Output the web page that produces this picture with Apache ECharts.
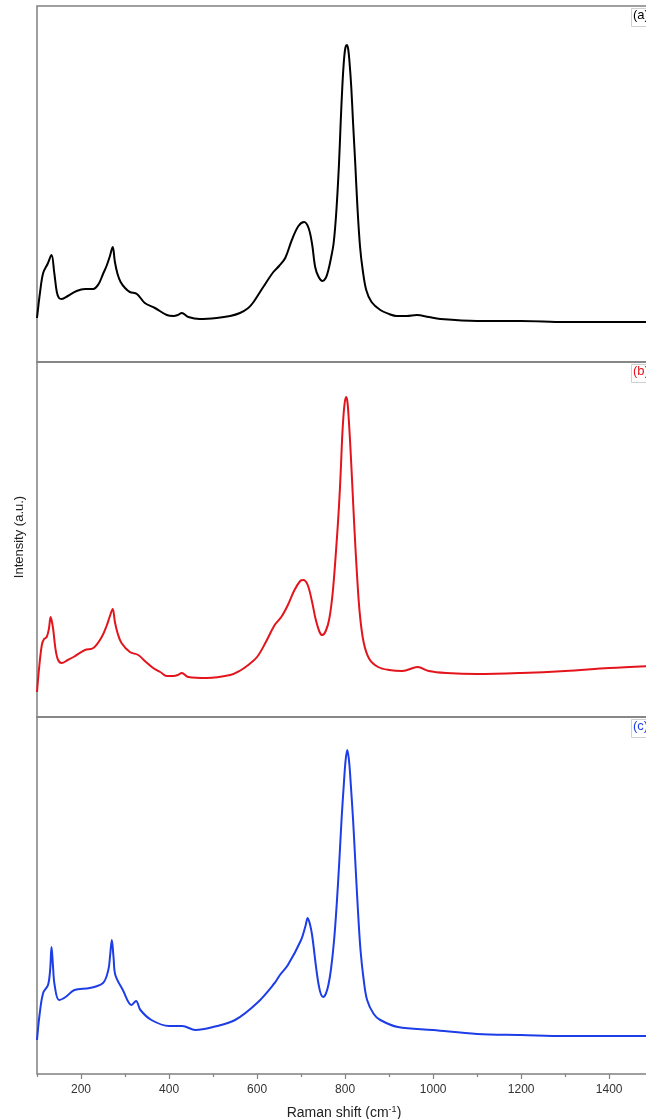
<!DOCTYPE html>
<html>
<head>
<meta charset="utf-8">
<script src="https://cdn.jsdelivr.net/npm/echarts@6/dist/echarts.min.js"></script>
<style>html,body{margin:0;padding:0;background:#fff}#c{width:646px;height:1119px}</style>
</head>
<body>
<div id="c"></div>
<script>
// Raman shift (cm-1) and intensity (a.u.) for each spectrum
const shiftA = [100,107,114,124,133,139,145,150,156,170,190,209,228,240,250,258,265,272,277,283,290,300,311,327,345,368,395,410,420,429,444,470,508,539,561,580,592,614,637,650,664,679,694,707,717,725,732,740,749,756,762,768,774,780,786,790,794,798,801,804,807,810,814,818,823,828,834,840,848,860,880,900,917,940,963,990,1016,1100,1200,1300,1400,1495];
const intensityA = [44,70,89,98,107,90,70,64,63,66,71,73,73,78,88,96,105,115,100,88,80,74,70,68,59,54,47,46,47,49,45,43,44,46,49,54,60,75,90,96,104,122,136,140,134,118,95,85,81,84,92,104,119,150,197,240,278,305,315,317,313,300,275,240,199,155,115,92,72,60,52,48,46,46,47,45,43,41,41,40,40,40];

const shiftB = [100,105,111,116,122,127,131,134,137,142,148,156,170,183,209,228,247,258,265,272,277,283,292,311,330,345,364,380,395,410,420,429,444,486,539,560,580,600,620,640,655,670,685,698,705,715,725,733,742,748,756,764,772,780,786,790,794,798,802,805,808,812,816,821,826,833,842,855,875,900,930,965,990,1030,1100,1200,1300,1400,1495];
const intensityB = [25,50,72,78,80,88,100,95,87,68,57,54,57,60,67,69,80,91,100,108,95,84,74,65,62,56,49,45,41,41,42,44,40,39,42,46,52,60,75,92,100,112,127,136,137,132,115,98,85,82,86,98,125,170,210,245,285,310,320,316,300,270,235,190,150,105,75,58,50,47,46,50,46,44,43,44,46,49,51];

const shiftC = [100,106,114,125,130,133,136,140,150,165,185,220,250,262,266,270,274,278,295,315,325,335,360,400,430,460,500,550,600,640,652,670,700,710,715,720,725,740,750,756,762,768,775,781,787,792,797,801,805,809,813,818,823,829,835,842,850,865,880,920,1000,1100,1200,1300,1400,1495];
const intensityC = [34,60,81,89,105,127,110,89,74,77,84,86,91,104,118,134,116,99,84,69,73,64,54,48,48,44,47,54,71,91,99,109,134,148,156,150,139,89,77,80,89,105,134,170,214,255,289,313,324,313,289,255,214,165,124,95,74,60,54,47,44,40,39,38,38,38];

// x-axis tick labels (major) and minor tick positions
const majorTicks = [200,400,600,800,1000,1200,1400];
const minorTicks = [100,300,500,700,900,1100,1300];
const panelLabels = ['(a)', '(b)', '(c)'];
const colors = ['#000000', '#e3141b', '#1d3de6'];

const chart = echarts.init(document.getElementById('c'), null, {renderer: 'canvas'});
const zip = (xs, ys) => xs.map((x, i) => [x, ys[i]]);

const FONT = 'Liberation Sans, Arial, sans-serif';
const panels = [
  {top: 6, height: 356},
  {top: 362, height: 355},
  {top: 717, height: 357}
];
const border = {show: true, borderColor: '#808080', borderWidth: 1.5, backgroundColor: 'transparent', containLabel: false, outerBoundsMode: 'none'};
const grids = panels.map(p => Object.assign({left: 37, right: -5, top: p.top, height: p.height}, border));

const xAxes = [0, 1, 2].map(i => ({
  type: 'value', gridIndex: i, min: 100, max: 1495, position: 'bottom',
  axisLine: {show: false}, splitLine: {show: false},
  axisTick: {show: i === 2, length: 5, customValues: majorTicks, lineStyle: {color: '#808080', width: 1.2}},
  axisLabel: {show: i === 2, customValues: majorTicks, margin: 10, fontSize: 12, fontFamily: FONT, color: '#333',
    formatter: v => String(v)},
  name: i === 2 ? '{n|Raman shift (cm}{s|-1}{n|)}' : '',
  nameLocation: 'middle', nameGap: 31,
  nameTextStyle: {rich: {n: {fontSize: 14, fontFamily: FONT, color: '#222'}, s: {fontSize: 9, fontFamily: FONT, color: '#222', verticalAlign: 'top', padding: [0, 0, 8, 0]}}}
}));
xAxes.push({
  type: 'value', gridIndex: 2, min: 100, max: 1495, position: 'bottom',
  axisLine: {show: false}, splitLine: {show: false},
  axisTick: {show: true, length: 3, customValues: minorTicks, lineStyle: {color: '#808080', width: 1.2}},
  axisLabel: {show: false}
});

const yAxes = [0, 1, 2].map(i => ({
  type: 'value', gridIndex: i, min: 0, max: panels[i].height,
  axisLine: {show: false}, axisTick: {show: false}, axisLabel: {show: false}, splitLine: {show: false}
}));

const dataSets = [zip(shiftA, intensityA), zip(shiftB, intensityB), zip(shiftC, intensityC)];
const series = dataSets.map((d, i) => ({
  type: 'line', xAxisIndex: i, yAxisIndex: i, data: d, showSymbol: false,
  smooth: 0.35, lineStyle: {color: colors[i], width: 2}, itemStyle: {color: colors[i]}, animation: false
}));

const graphic = [];
panels.forEach((p, i) => {
  graphic.push({type: 'rect', left: 631, top: p.top + 2, shape: {width: 40, height: 18},
    style: {fill: '#fff', stroke: '#d0d0d0', lineWidth: 1}, z: 10});
  graphic.push({type: 'text', left: 633, top: p.top + 3, z: 11,
    style: {text: panelLabels[i], fill: colors[i], font: '13px ' + FONT}});
});
graphic.push({type: 'text', x: 19, y: 537, rotation: Math.PI / 2, z: 11,
  style: {text: 'Intensity (a.u.)', fill: '#222', font: '13px ' + FONT, align: 'center', verticalAlign: 'middle'}});

chart.setOption({
  animation: false,
  backgroundColor: '#fff',
  grid: grids, xAxis: xAxes, yAxis: yAxes, series: series, graphic: graphic
});
</script>
</body>
</html>
